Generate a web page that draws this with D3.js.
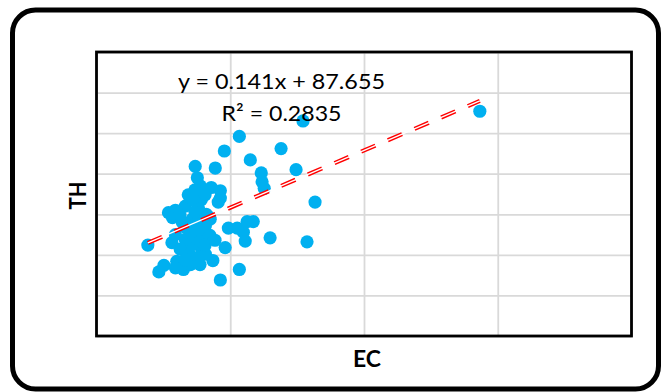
<!DOCTYPE html>
<html><head><meta charset="utf-8">
<script src="https://cdn.jsdelivr.net/npm/d3@7/dist/d3.min.js"></script>
<style>html,body{margin:0;padding:0;background:#fff}svg{display:block}</style>
</head><body>
<svg id="chart" width="667" height="392"></svg>
<script>
// ---- data ----
const ecValues = [1433, 772, 534, 478, 690, 575, 369, 444, 746, 616, 619, 627, 817, 377, 388, 429, 463, 343, 463, 392,
  332, 295, 269, 410, 455, 418, 192, 284, 321, 388, 425, 493, 526, 549, 563, 586, 556, 649, 787, 481,
  435, 534, 463, 282, 295, 351, 392, 343, 375, 300, 252, 233, 325, 295, 356, 373, 351, 399, 332, 381,
  358, 407, 366, 332, 313, 407, 351, 388, 368, 357, 406, 379, 424, 406, 443, 350, 387, 331, 312, 368];
const thValues = [277, 265, 246, 228, 231, 217, 209, 207, 205, 201, 190, 182, 165, 195, 185, 183, 179, 174, 170, 168,
  160, 155, 152, 150, 165, 147, 112, 146, 140, 146, 144, 133, 133, 128, 141, 141, 117, 121, 116, 109,
  93, 82, 69, 115, 125, 115, 108, 103, 96, 92, 87, 79, 82, 84, 113, 134, 129, 124, 119, 158,
  144, 136, 122, 134, 107, 101, 88, 117, 180, 168, 174, 131, 124, 112, 118, 100, 88, 94, 149, 153];
const xTicks = [0, 500, 1000, 1500, 2000];
const yTicks = [0, 50, 100, 150, 200, 250, 300, 350];
const trendSlope = 0.141;
const trendIntercept = 87.655;
const equationLabel = "y = 0.141x + 87.655";
const r2Label = ["R", "²", " = 0.2835"];
const xTitle = "EC";
const yTitle = "TH";

// ---- drawing ----
const svg = d3.select("#chart");
const x = d3.scaleLinear().domain([xTicks[0], xTicks[xTicks.length-1]]).range([96.5, 631.5]);
const y = d3.scaleLinear().domain([yTicks[0], yTicks[yTicks.length-1]]).range([336, 52]);

// outer rounded frame
svg.append("rect").attr("x", 12.5).attr("y", 10).attr("width", 646).attr("height", 379)
  .attr("rx", 23).attr("ry", 23).attr("fill", "#fff").attr("stroke", "#000").attr("stroke-width", 5);

// gridlines via axes
const gx = svg.append("g").attr("transform", `translate(0,${y(yTicks[0])})`)
  .call(d3.axisBottom(x).tickValues(xTicks).tickSize(-(y(yTicks[0]) - y(yTicks[yTicks.length-1]))).tickFormat(""));
const gy = svg.append("g").attr("transform", `translate(${x(xTicks[0])},0)`)
  .call(d3.axisLeft(y).tickValues(yTicks).tickSize(-(x(xTicks[xTicks.length-1]) - x(xTicks[0]))).tickFormat(""));
[gx, gy].forEach(g => {
  g.select(".domain").remove();
  g.selectAll("line").attr("stroke", "#d9d9d9").attr("stroke-width", 1.8);
});

// plot border
svg.append("rect").attr("x", x(xTicks[0])).attr("y", y(yTicks[yTicks.length-1]))
  .attr("width", x(xTicks[xTicks.length-1]) - x(xTicks[0]))
  .attr("height", y(yTicks[0]) - y(yTicks[yTicks.length-1]))
  .attr("fill", "none").attr("stroke", "#000").attr("stroke-width", 2.8);

// points
const pts = ecValues.map((v, i) => ({ ec: v, th: thValues[i] }));
svg.append("g").selectAll("circle").data(pts).join("circle")
  .attr("cx", d => x(d.ec)).attr("cy", d => y(d.th)).attr("r", 6.6).attr("fill", "#00B0F0");

// trendline (compound double line: dashed red, continuous white core)
const xmin = d3.min(ecValues), xmax = d3.max(ecValues);
const trend = [xmin, xmax].map(v => [x(v), y(trendSlope * v + trendIntercept)]);
const line = d3.line();
svg.append("path").attr("d", line(trend)).attr("fill", "none")
  .attr("stroke", "#ff0000").attr("stroke-width", 4.2).attr("stroke-dasharray", "15.5,13.5");
svg.append("path").attr("d", line(trend)).attr("fill", "none")
  .attr("stroke", "#fff").attr("stroke-width", 1.3);

// equation labels
const font = "Lato, 'Open Sans', 'DejaVu Sans', sans-serif";
svg.append("text").attr("x", 178).attr("y", 89).attr("font-family", font).attr("font-size", 22)
  .attr("fill", "#000").attr("textLength", 207).attr("lengthAdjust", "spacingAndGlyphs").text(equationLabel);
const r2 = svg.append("text").attr("x", 221.5).attr("y", 120.5).attr("font-family", font).attr("font-size", 22)
  .attr("fill", "#000").attr("textLength", 120).attr("lengthAdjust", "spacingAndGlyphs");
r2Label.forEach(s => r2.append("tspan").text(s));

// axis titles
svg.append("text").attr("x", 367).attr("y", 367).attr("text-anchor", "middle")
  .attr("font-family", font).attr("font-weight", "bold").attr("font-size", 22)
  .attr("textLength", 28).attr("lengthAdjust", "spacingAndGlyphs").text(xTitle);
svg.append("text").attr("transform", "translate(86,195.5) rotate(-90)").attr("text-anchor", "middle")
  .attr("font-family", font).attr("font-weight", "bold").attr("font-size", 22)
  .attr("textLength", 28).attr("lengthAdjust", "spacingAndGlyphs").text(yTitle);
</script>
</body></html>
